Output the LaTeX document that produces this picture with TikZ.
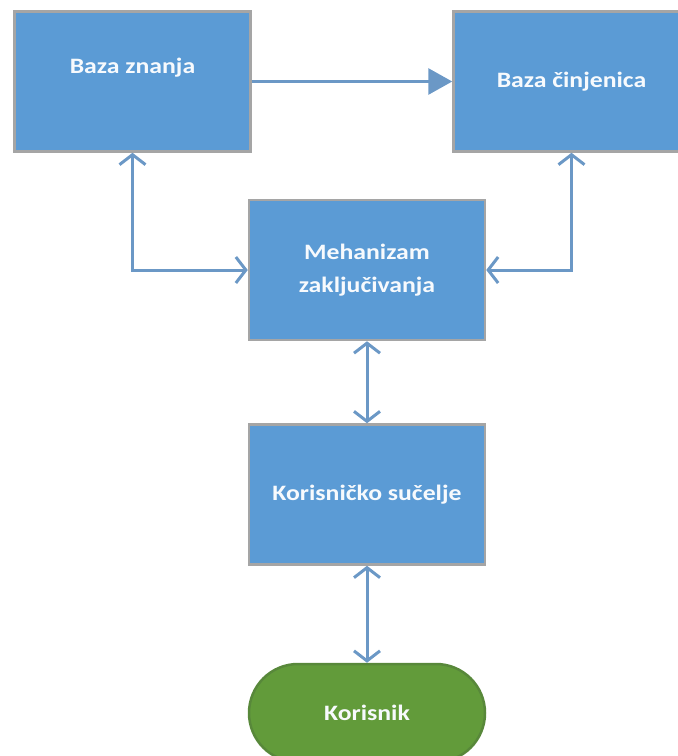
\documentclass[tikz,border=0pt]{standalone}
\usepackage{fontspec}
\setmainfont{Carlito}[FakeStretch=1.17]
\usetikzlibrary{arrows.meta,shapes.misc}
\definecolor{boxblue}{HTML}{5B9BD5}
\definecolor{boxgray}{HTML}{A5A5A5}
\definecolor{linkblue}{HTML}{6B98C6}
\definecolor{usergreen}{HTML}{629B3A}
\definecolor{userborder}{HTML}{58883A}
\begin{document}
\begin{tikzpicture}[x=1pt, y=-1pt,
                    font=\fontsize{22}{33}\selectfont\bfseries,
                    line width=2.5pt]
    \tikzstyle{block}=[rectangle,fill=boxblue,draw=boxgray,text=white!95!boxblue,align=center,
                       minimum width=236pt,minimum height=140pt,inner sep=0pt]
    \tikzstyle{user}=[block,rounded rectangle,fill=usergreen,draw=userborder,
                      minimum height=98pt]
    \tikzstyle{blocktext}=[text=white!95!boxblue,inner sep=0pt]
    \tikzstyle{link}=[draw=linkblue,line width=3pt]
    \tikzstyle{both}=[link,{Straight Barb[length=10pt,width=26pt]}-{Straight Barb[length=10pt,width=26pt]}]
    \tikzstyle{onto}=[link,-{Triangle[length=24pt,width=26pt]}]

    \useasboundingbox (0,0) rectangle (678,756);
    \clip (0,0) rectangle (678,756);

    \node[block] (znanja) at (132.5,81.5) {};
    \node[blocktext] at (132.5,68) {Baza znanja};
    \node[block] (cinjenica) at (571.5,81.5) {Baza činjenica};
    \node[block] (mehanizam) at (367,270) {Mehanizam\\zaključivanja};
    \node[block] (sucelje) at (367,494.5) {Korisničko sučelje};
    \node[user] (korisnik) at (367,713) {Korisnik};

    \draw[onto] (znanja.east) -- (cinjenica.west);
    \draw[both] (znanja.south) |- (mehanizam.west);
    \draw[both] (cinjenica.south) |- (mehanizam.east);
    \draw[both] (mehanizam.south) -- (sucelje.north);
    \draw[both] (sucelje.south) -- (korisnik.north);
\end{tikzpicture}
\end{document}
